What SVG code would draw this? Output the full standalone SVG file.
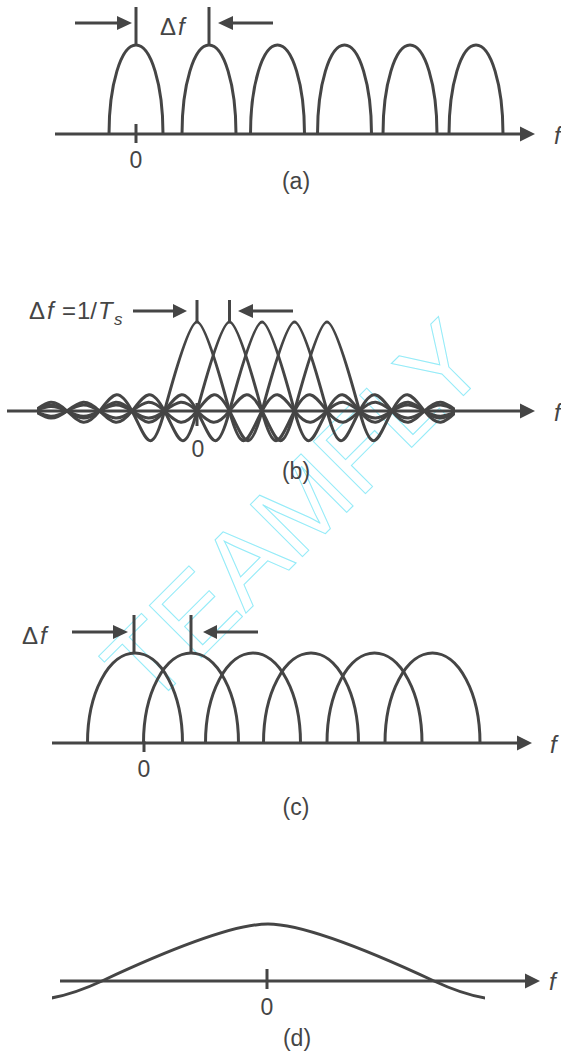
<svg xmlns="http://www.w3.org/2000/svg" width="561" height="1052" viewBox="0 0 561 1052">
<style>
.ln{fill:none;stroke:#454545;stroke-width:3}
.ah{fill:#454545;stroke:none}
.lb{font-family:"Liberation Sans",Arial,sans-serif;font-size:23px;fill:#454545}
.big{font-size:24px}
.it{font-style:italic}
.mid{text-anchor:middle}
.wm{font-family:"Liberation Sans",Arial,sans-serif;font-size:107px;fill:none;stroke:#93ebf8;stroke-width:1}
</style>
<defs>
<path id="sincB" d="M -292.5 0 C -278.71 -5.71 -273.79 -6.42 -260 0 C -246.21 6.42 -241.29 7.34 -227.5 0 C -213.71 -7.34 -208.79 -8.56 -195 0 C -181.21 8.56 -176.29 10.27 -162.5 0 C -148.71 -10.27 -143.79 -12.84 -130 0 C -116.21 12.84 -111.29 17.12 -97.5 0 C -83.71 -17.12 -78.79 -25.69 -65 0 C -51.21 25.69 -46.29 51.37 -32.5 0 C -21.13 -42.36 -7.15 -89 0 -89 C 7.15 -89 21.13 -42.36 32.5 0 C 46.29 51.37 51.21 25.69 65 0 C 78.79 -25.69 83.71 -17.12 97.5 0 C 111.29 17.12 116.21 12.84 130 0 C 143.79 -12.84 148.71 -10.27 162.5 0 C 176.29 10.27 181.21 8.56 195 0 C 208.79 -8.56 213.71 -7.34 227.5 0 C 241.29 7.34 246.21 6.42 260 0 C 273.79 -6.42 278.71 -5.71 292.5 0"/>
<clipPath id="clipB"><rect x="37" y="280" width="418" height="200"/></clipPath>
<clipPath id="clipD"><rect x="52" y="900" width="433" height="120"/></clipPath>
</defs>

<g id="watermark">
<text class="wm" transform="translate(149,710) rotate(-45)">TEAMFLY</text>
</g>

<g id="panel-a">
<g id="a-curves" class="ln">
<path d="M 109 134 A 27 89 0 0 1 163 134"/>
<path d="M 182 134 A 27 89 0 0 1 236 134"/>
<path d="M 250.5 134 A 27 89 0 0 1 304.5 134"/>
<path d="M 317.5 134 A 27 89 0 0 1 371.5 134"/>
<path d="M 383 134 A 27 89 0 0 1 437 134"/>
<path d="M 449 134 A 27 89 0 0 1 503 134"/>
</g>
<g id="a-connectors">
<line class="ln" x1="55" y1="134" x2="522" y2="134"/>
<polygon class="ah" points="520,126.5 535,134 520,141.5"/>
<line class="ln" x1="136" y1="124" x2="136" y2="143"/>
<line class="ln" x1="136" y1="7" x2="136" y2="45"/>
<line class="ln" x1="209" y1="7" x2="209" y2="45"/>
<line class="ln" x1="75" y1="23" x2="118" y2="23"/>
<polygon class="ah" points="117,16 132,23 117,30"/>
<line class="ln" x1="232" y1="23" x2="273" y2="23"/>
<polygon class="ah" points="233,16 218,23 233,30"/>
</g>
<text class="lb big" y="35"><tspan x="160">Δ</tspan><tspan x="178" class="it">f</tspan></text>
<text class="lb mid" x="136" y="168">0</text>
<text class="lb mid" x="296" y="189">(a)</text>
<text class="lb big it" x="554" y="144">f</text>
</g>

<g id="panel-b">
<g id="b-curves" class="ln" clip-path="url(#clipB)">
<use href="#sincB" transform="translate(197,411)"/>
<use href="#sincB" transform="translate(229.5,411)"/>
<use href="#sincB" transform="translate(262,411)"/>
<use href="#sincB" transform="translate(294.5,411)"/>
<use href="#sincB" transform="translate(327,411)"/>
</g>
<g id="b-connectors">
<line class="ln" x1="7" y1="411" x2="522" y2="411"/>
<polygon class="ah" points="520,403.5 535,411 520,418.5"/>
<line class="ln" x1="197" y1="403" x2="197" y2="426"/>
<line class="ln" x1="197" y1="300" x2="197" y2="322"/>
<line class="ln" x1="229.5" y1="300" x2="229.5" y2="322"/>
<line class="ln" x1="133" y1="311" x2="174" y2="311"/>
<polygon class="ah" points="173,304 187,311 173,318"/>
<line class="ln" x1="252" y1="311" x2="293" y2="311"/>
<polygon class="ah" points="253,304 238,311 253,318"/>
</g>
<text class="lb big" y="319"><tspan x="29">Δ</tspan><tspan x="47" class="it">f</tspan><tspan x="62">=</tspan><tspan x="77">1/</tspan><tspan x="98" class="it">T</tspan><tspan x="114" y="325" class="it" style="font-size:17px">s</tspan></text>
<text class="lb mid" x="198" y="457">0</text>
<text class="lb mid" x="296" y="479">(b)</text>
<text class="lb big it" x="554" y="421">f</text>
</g>

<g id="panel-c">
<g id="c-curves" class="ln">
<path d="M 87.5 743 A 47.5 90 0 0 1 182.5 743"/>
<path d="M 143.5 743 A 47.5 90 0 0 1 238.5 743"/>
<path d="M 205.5 743 A 47.5 90 0 0 1 300.5 743"/>
<path d="M 263.5 743 A 47.5 90 0 0 1 358.5 743"/>
<path d="M 327 743 A 47.5 90 0 0 1 422 743"/>
<path d="M 385 743 A 47.5 90 0 0 1 480 743"/>
</g>
<g id="c-connectors">
<line class="ln" x1="52" y1="743" x2="519" y2="743"/>
<polygon class="ah" points="517,735.5 532,743 517,750.5"/>
<line class="ln" x1="144" y1="741" x2="144" y2="752"/>
<line class="ln" x1="134" y1="615" x2="134" y2="653"/>
<line class="ln" x1="191" y1="615" x2="191" y2="653"/>
<line class="ln" x1="72" y1="632" x2="114" y2="632"/>
<polygon class="ah" points="113,625 128,632 113,639"/>
<line class="ln" x1="216" y1="632" x2="258" y2="632"/>
<polygon class="ah" points="217,625 203,632 217,639"/>
</g>
<text class="lb big" y="644"><tspan x="22">Δ</tspan><tspan x="40" class="it">f</tspan></text>
<text class="lb mid" x="144" y="777">0</text>
<text class="lb mid" x="296" y="815">(c)</text>
<text class="lb big it" x="550" y="753">f</text>
</g>

<g id="panel-d">
<g id="d-curves" class="ln" clip-path="url(#clipD)">
<path transform="translate(268,981)" d="M -332 0 C -261.55 16.45 -236.45 32.9 -166 0 C -107.9 -27.13 -36.52 -57 0 -57 C 36.52 -57 107.9 -27.13 166 0 C 236.45 32.9 261.55 16.45 332 0"/>
</g>
<g id="d-connectors">
<line class="ln" x1="60" y1="981" x2="527" y2="981"/>
<polygon class="ah" points="525,973.5 540,981 525,988.5"/>
<line class="ln" x1="267" y1="969" x2="267" y2="989"/>
</g>
<text class="lb mid" x="267" y="1015">0</text>
<text class="lb mid" x="297" y="1046">(d)</text>
<text class="lb big it" x="549" y="990">f</text>
</g>
</svg>
